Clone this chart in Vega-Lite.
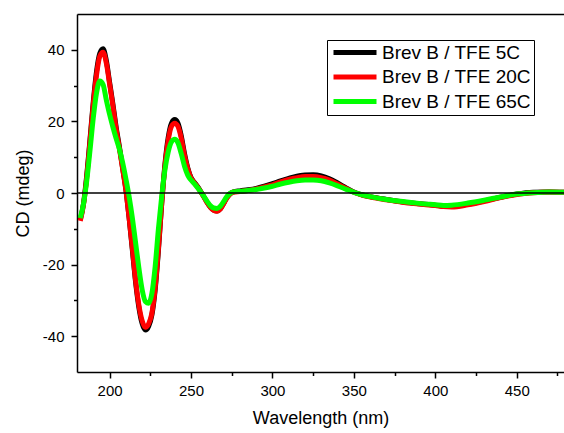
{
  "$schema": "https://vega.github.io/schema/vega-lite/v6.json",
  "autosize": "none",
  "width": 487,
  "height": 358,
  "padding": {"left": 77, "top": 14, "right": 0, "bottom": 61},
  "config": {
    "view": {"stroke": null},
    "font": "Liberation Sans",
    "axis": {"grid": false, "domainColor": "black", "domainWidth": 1.5, "tickColor": "black", "tickWidth": 1.5, "tickSize": 5, "labelColor": "black", "titleColor": "black", "labelFont": "Liberation Sans", "titleFont": "Liberation Sans", "labelFontSize": 15, "titleFontSize": 18, "titleFontWeight": "normal", "labelOverlap": false}
  },
  "datasets": {
    "cd": [
      {"s": "Brev B / TFE 5C", "w": 182, "v": -7.5}, {"s": "Brev B / TFE 5C", "w": 184, "v": -3}, {"s": "Brev B / TFE 5C", "w": 186, "v": 5}, {"s": "Brev B / TFE 5C", "w": 188, "v": 15}, {"s": "Brev B / TFE 5C", "w": 190, "v": 25.5}, {"s": "Brev B / TFE 5C", "w": 192, "v": 34}, {"s": "Brev B / TFE 5C", "w": 194, "v": 39}, {"s": "Brev B / TFE 5C", "w": 196, "v": 40.3}, {"s": "Brev B / TFE 5C", "w": 198, "v": 37}, {"s": "Brev B / TFE 5C", "w": 200, "v": 31}, {"s": "Brev B / TFE 5C", "w": 202, "v": 25}, {"s": "Brev B / TFE 5C", "w": 204, "v": 18.5}, {"s": "Brev B / TFE 5C", "w": 206, "v": 13}, {"s": "Brev B / TFE 5C", "w": 208, "v": 7}, {"s": "Brev B / TFE 5C", "w": 210, "v": 1}, {"s": "Brev B / TFE 5C", "w": 212, "v": -7}, {"s": "Brev B / TFE 5C", "w": 214, "v": -16}, {"s": "Brev B / TFE 5C", "w": 216, "v": -25}, {"s": "Brev B / TFE 5C", "w": 218, "v": -32}, {"s": "Brev B / TFE 5C", "w": 220, "v": -36.5}, {"s": "Brev B / TFE 5C", "w": 222, "v": -38.3}, {"s": "Brev B / TFE 5C", "w": 224, "v": -37.2}, {"s": "Brev B / TFE 5C", "w": 226, "v": -34}, {"s": "Brev B / TFE 5C", "w": 228, "v": -27}, {"s": "Brev B / TFE 5C", "w": 230, "v": -16}, {"s": "Brev B / TFE 5C", "w": 232, "v": -3}, {"s": "Brev B / TFE 5C", "w": 234, "v": 8}, {"s": "Brev B / TFE 5C", "w": 236, "v": 15.5}, {"s": "Brev B / TFE 5C", "w": 238, "v": 19.5}, {"s": "Brev B / TFE 5C", "w": 240, "v": 20.5}, {"s": "Brev B / TFE 5C", "w": 242, "v": 19.5}, {"s": "Brev B / TFE 5C", "w": 244, "v": 16}, {"s": "Brev B / TFE 5C", "w": 246, "v": 11}, {"s": "Brev B / TFE 5C", "w": 248, "v": 7}, {"s": "Brev B / TFE 5C", "w": 250, "v": 4.3}, {"s": "Brev B / TFE 5C", "w": 252, "v": 3}, {"s": "Brev B / TFE 5C", "w": 254, "v": 1.8}, {"s": "Brev B / TFE 5C", "w": 256, "v": 0.4}, {"s": "Brev B / TFE 5C", "w": 258, "v": -1.1}, {"s": "Brev B / TFE 5C", "w": 260, "v": -2.7}, {"s": "Brev B / TFE 5C", "w": 262, "v": -4}, {"s": "Brev B / TFE 5C", "w": 264, "v": -4.8}, {"s": "Brev B / TFE 5C", "w": 266, "v": -5}, {"s": "Brev B / TFE 5C", "w": 268, "v": -4.4}, {"s": "Brev B / TFE 5C", "w": 270, "v": -2.9}, {"s": "Brev B / TFE 5C", "w": 272, "v": -1.3}, {"s": "Brev B / TFE 5C", "w": 274, "v": -0.2}, {"s": "Brev B / TFE 5C", "w": 276, "v": 0.3}, {"s": "Brev B / TFE 5C", "w": 280, "v": 0.6}, {"s": "Brev B / TFE 5C", "w": 285, "v": 0.9}, {"s": "Brev B / TFE 5C", "w": 290, "v": 1.3}, {"s": "Brev B / TFE 5C", "w": 295, "v": 1.9}, {"s": "Brev B / TFE 5C", "w": 300, "v": 2.6}, {"s": "Brev B / TFE 5C", "w": 305, "v": 3.4}, {"s": "Brev B / TFE 5C", "w": 310, "v": 4.1}, {"s": "Brev B / TFE 5C", "w": 315, "v": 4.7}, {"s": "Brev B / TFE 5C", "w": 320, "v": 5}, {"s": "Brev B / TFE 5C", "w": 325, "v": 5.1}, {"s": "Brev B / TFE 5C", "w": 330, "v": 4.8}, {"s": "Brev B / TFE 5C", "w": 335, "v": 4}, {"s": "Brev B / TFE 5C", "w": 340, "v": 2.8}, {"s": "Brev B / TFE 5C", "w": 345, "v": 1.5}, {"s": "Brev B / TFE 5C", "w": 350, "v": 0.3}, {"s": "Brev B / TFE 5C", "w": 355, "v": -0.5}, {"s": "Brev B / TFE 5C", "w": 360, "v": -1}, {"s": "Brev B / TFE 5C", "w": 370, "v": -1.8}, {"s": "Brev B / TFE 5C", "w": 380, "v": -2.5}, {"s": "Brev B / TFE 5C", "w": 390, "v": -3}, {"s": "Brev B / TFE 5C", "w": 400, "v": -3.4}, {"s": "Brev B / TFE 5C", "w": 405, "v": -3.7}, {"s": "Brev B / TFE 5C", "w": 410, "v": -3.7}, {"s": "Brev B / TFE 5C", "w": 420, "v": -3.1}, {"s": "Brev B / TFE 5C", "w": 430, "v": -2.2}, {"s": "Brev B / TFE 5C", "w": 440, "v": -1.2}, {"s": "Brev B / TFE 5C", "w": 450, "v": -0.3}, {"s": "Brev B / TFE 5C", "w": 460, "v": 0.2}, {"s": "Brev B / TFE 5C", "w": 470, "v": 0.3}, {"s": "Brev B / TFE 5C", "w": 479, "v": 0.2},

      {"s": "Brev B / TFE 20C", "w": 182, "v": -7.8}, {"s": "Brev B / TFE 20C", "w": 184, "v": -3.2}, {"s": "Brev B / TFE 20C", "w": 186, "v": 4.5}, {"s": "Brev B / TFE 20C", "w": 188, "v": 14.5}, {"s": "Brev B / TFE 20C", "w": 190, "v": 24.8}, {"s": "Brev B / TFE 20C", "w": 192, "v": 33}, {"s": "Brev B / TFE 20C", "w": 194, "v": 38.2}, {"s": "Brev B / TFE 20C", "w": 196, "v": 39.3}, {"s": "Brev B / TFE 20C", "w": 198, "v": 36.3}, {"s": "Brev B / TFE 20C", "w": 200, "v": 30.5}, {"s": "Brev B / TFE 20C", "w": 202, "v": 24.5}, {"s": "Brev B / TFE 20C", "w": 204, "v": 18}, {"s": "Brev B / TFE 20C", "w": 206, "v": 12.5}, {"s": "Brev B / TFE 20C", "w": 208, "v": 6.8}, {"s": "Brev B / TFE 20C", "w": 210, "v": 0.8}, {"s": "Brev B / TFE 20C", "w": 212, "v": -7}, {"s": "Brev B / TFE 20C", "w": 214, "v": -15.5}, {"s": "Brev B / TFE 20C", "w": 216, "v": -24.5}, {"s": "Brev B / TFE 20C", "w": 218, "v": -31.3}, {"s": "Brev B / TFE 20C", "w": 220, "v": -35.7}, {"s": "Brev B / TFE 20C", "w": 222, "v": -37.5}, {"s": "Brev B / TFE 20C", "w": 224, "v": -36.5}, {"s": "Brev B / TFE 20C", "w": 226, "v": -33.5}, {"s": "Brev B / TFE 20C", "w": 228, "v": -26.5}, {"s": "Brev B / TFE 20C", "w": 230, "v": -15.5}, {"s": "Brev B / TFE 20C", "w": 232, "v": -3}, {"s": "Brev B / TFE 20C", "w": 234, "v": 7.5}, {"s": "Brev B / TFE 20C", "w": 236, "v": 14.7}, {"s": "Brev B / TFE 20C", "w": 238, "v": 18.6}, {"s": "Brev B / TFE 20C", "w": 240, "v": 19.5}, {"s": "Brev B / TFE 20C", "w": 242, "v": 18.6}, {"s": "Brev B / TFE 20C", "w": 244, "v": 15.3}, {"s": "Brev B / TFE 20C", "w": 246, "v": 10.5}, {"s": "Brev B / TFE 20C", "w": 248, "v": 6.8}, {"s": "Brev B / TFE 20C", "w": 250, "v": 4.2}, {"s": "Brev B / TFE 20C", "w": 252, "v": 2.9}, {"s": "Brev B / TFE 20C", "w": 254, "v": 1.7}, {"s": "Brev B / TFE 20C", "w": 256, "v": 0.3}, {"s": "Brev B / TFE 20C", "w": 258, "v": -1.2}, {"s": "Brev B / TFE 20C", "w": 260, "v": -2.8}, {"s": "Brev B / TFE 20C", "w": 262, "v": -4.1}, {"s": "Brev B / TFE 20C", "w": 264, "v": -4.9}, {"s": "Brev B / TFE 20C", "w": 266, "v": -5.1}, {"s": "Brev B / TFE 20C", "w": 268, "v": -4.5}, {"s": "Brev B / TFE 20C", "w": 270, "v": -3}, {"s": "Brev B / TFE 20C", "w": 272, "v": -1.4}, {"s": "Brev B / TFE 20C", "w": 274, "v": -0.3}, {"s": "Brev B / TFE 20C", "w": 276, "v": 0.2}, {"s": "Brev B / TFE 20C", "w": 280, "v": 0.4}, {"s": "Brev B / TFE 20C", "w": 285, "v": 0.7}, {"s": "Brev B / TFE 20C", "w": 290, "v": 1.1}, {"s": "Brev B / TFE 20C", "w": 295, "v": 1.7}, {"s": "Brev B / TFE 20C", "w": 300, "v": 2.3}, {"s": "Brev B / TFE 20C", "w": 305, "v": 3.1}, {"s": "Brev B / TFE 20C", "w": 310, "v": 3.8}, {"s": "Brev B / TFE 20C", "w": 315, "v": 4.3}, {"s": "Brev B / TFE 20C", "w": 320, "v": 4.6}, {"s": "Brev B / TFE 20C", "w": 325, "v": 4.6}, {"s": "Brev B / TFE 20C", "w": 330, "v": 4.3}, {"s": "Brev B / TFE 20C", "w": 335, "v": 3.6}, {"s": "Brev B / TFE 20C", "w": 340, "v": 2.5}, {"s": "Brev B / TFE 20C", "w": 345, "v": 1.3}, {"s": "Brev B / TFE 20C", "w": 350, "v": 0.2}, {"s": "Brev B / TFE 20C", "w": 355, "v": -0.6}, {"s": "Brev B / TFE 20C", "w": 360, "v": -1.1}, {"s": "Brev B / TFE 20C", "w": 370, "v": -1.9}, {"s": "Brev B / TFE 20C", "w": 380, "v": -2.6}, {"s": "Brev B / TFE 20C", "w": 390, "v": -3.1}, {"s": "Brev B / TFE 20C", "w": 400, "v": -3.5}, {"s": "Brev B / TFE 20C", "w": 405, "v": -3.8}, {"s": "Brev B / TFE 20C", "w": 410, "v": -3.9}, {"s": "Brev B / TFE 20C", "w": 420, "v": -3.3}, {"s": "Brev B / TFE 20C", "w": 430, "v": -2.4}, {"s": "Brev B / TFE 20C", "w": 440, "v": -1.3}, {"s": "Brev B / TFE 20C", "w": 450, "v": -0.4}, {"s": "Brev B / TFE 20C", "w": 460, "v": 0.1}, {"s": "Brev B / TFE 20C", "w": 470, "v": 0.3}, {"s": "Brev B / TFE 20C", "w": 479, "v": 0.2},

      {"s": "Brev B / TFE 65C", "w": 182, "v": -7}, {"s": "Brev B / TFE 65C", "w": 184, "v": -3}, {"s": "Brev B / TFE 65C", "w": 186, "v": 3.5}, {"s": "Brev B / TFE 65C", "w": 188, "v": 12}, {"s": "Brev B / TFE 65C", "w": 190, "v": 21}, {"s": "Brev B / TFE 65C", "w": 192, "v": 28}, {"s": "Brev B / TFE 65C", "w": 194, "v": 31.3}, {"s": "Brev B / TFE 65C", "w": 196, "v": 30.3}, {"s": "Brev B / TFE 65C", "w": 198, "v": 26}, {"s": "Brev B / TFE 65C", "w": 200, "v": 22}, {"s": "Brev B / TFE 65C", "w": 202, "v": 18.5}, {"s": "Brev B / TFE 65C", "w": 204, "v": 15.3}, {"s": "Brev B / TFE 65C", "w": 206, "v": 12.3}, {"s": "Brev B / TFE 65C", "w": 208, "v": 8.5}, {"s": "Brev B / TFE 65C", "w": 210, "v": 4}, {"s": "Brev B / TFE 65C", "w": 212, "v": -1}, {"s": "Brev B / TFE 65C", "w": 214, "v": -7}, {"s": "Brev B / TFE 65C", "w": 216, "v": -14}, {"s": "Brev B / TFE 65C", "w": 218, "v": -21}, {"s": "Brev B / TFE 65C", "w": 220, "v": -27}, {"s": "Brev B / TFE 65C", "w": 222, "v": -30.3}, {"s": "Brev B / TFE 65C", "w": 224, "v": -30.8}, {"s": "Brev B / TFE 65C", "w": 226, "v": -28}, {"s": "Brev B / TFE 65C", "w": 228, "v": -20.5}, {"s": "Brev B / TFE 65C", "w": 230, "v": -10}, {"s": "Brev B / TFE 65C", "w": 232, "v": -1}, {"s": "Brev B / TFE 65C", "w": 234, "v": 6.5}, {"s": "Brev B / TFE 65C", "w": 236, "v": 11.5}, {"s": "Brev B / TFE 65C", "w": 238, "v": 14.3}, {"s": "Brev B / TFE 65C", "w": 240, "v": 15}, {"s": "Brev B / TFE 65C", "w": 242, "v": 14}, {"s": "Brev B / TFE 65C", "w": 244, "v": 11}, {"s": "Brev B / TFE 65C", "w": 246, "v": 7.5}, {"s": "Brev B / TFE 65C", "w": 248, "v": 5}, {"s": "Brev B / TFE 65C", "w": 250, "v": 3.6}, {"s": "Brev B / TFE 65C", "w": 252, "v": 2.6}, {"s": "Brev B / TFE 65C", "w": 254, "v": 1.5}, {"s": "Brev B / TFE 65C", "w": 256, "v": 0.3}, {"s": "Brev B / TFE 65C", "w": 258, "v": -1}, {"s": "Brev B / TFE 65C", "w": 260, "v": -2.4}, {"s": "Brev B / TFE 65C", "w": 262, "v": -3.6}, {"s": "Brev B / TFE 65C", "w": 264, "v": -4.2}, {"s": "Brev B / TFE 65C", "w": 266, "v": -4.3}, {"s": "Brev B / TFE 65C", "w": 268, "v": -3.7}, {"s": "Brev B / TFE 65C", "w": 270, "v": -2.4}, {"s": "Brev B / TFE 65C", "w": 272, "v": -1}, {"s": "Brev B / TFE 65C", "w": 274, "v": -0.1}, {"s": "Brev B / TFE 65C", "w": 276, "v": 0.3}, {"s": "Brev B / TFE 65C", "w": 280, "v": 0.5}, {"s": "Brev B / TFE 65C", "w": 285, "v": 0.7}, {"s": "Brev B / TFE 65C", "w": 290, "v": 1}, {"s": "Brev B / TFE 65C", "w": 295, "v": 1.4}, {"s": "Brev B / TFE 65C", "w": 300, "v": 1.9}, {"s": "Brev B / TFE 65C", "w": 305, "v": 2.5}, {"s": "Brev B / TFE 65C", "w": 310, "v": 3}, {"s": "Brev B / TFE 65C", "w": 315, "v": 3.4}, {"s": "Brev B / TFE 65C", "w": 320, "v": 3.6}, {"s": "Brev B / TFE 65C", "w": 325, "v": 3.6}, {"s": "Brev B / TFE 65C", "w": 330, "v": 3.4}, {"s": "Brev B / TFE 65C", "w": 335, "v": 2.8}, {"s": "Brev B / TFE 65C", "w": 340, "v": 2}, {"s": "Brev B / TFE 65C", "w": 345, "v": 1.1}, {"s": "Brev B / TFE 65C", "w": 350, "v": 0.2}, {"s": "Brev B / TFE 65C", "w": 355, "v": -0.5}, {"s": "Brev B / TFE 65C", "w": 360, "v": -1}, {"s": "Brev B / TFE 65C", "w": 370, "v": -1.8}, {"s": "Brev B / TFE 65C", "w": 380, "v": -2.4}, {"s": "Brev B / TFE 65C", "w": 390, "v": -2.9}, {"s": "Brev B / TFE 65C", "w": 400, "v": -3.3}, {"s": "Brev B / TFE 65C", "w": 405, "v": -3.5}, {"s": "Brev B / TFE 65C", "w": 410, "v": -3.4}, {"s": "Brev B / TFE 65C", "w": 420, "v": -2.8}, {"s": "Brev B / TFE 65C", "w": 430, "v": -2}, {"s": "Brev B / TFE 65C", "w": 440, "v": -1.1}, {"s": "Brev B / TFE 65C", "w": 450, "v": -0.3}, {"s": "Brev B / TFE 65C", "w": 460, "v": 0.1}, {"s": "Brev B / TFE 65C", "w": 470, "v": 0.3}, {"s": "Brev B / TFE 65C", "w": 479, "v": 0.2}
    ],
    "top": [{"w": 300, "zero": 0}]
  },
  "layer": [
    {
      "data": {"name": "cd"},
      "mark": {"type": "line", "strokeWidth": 5, "interpolate": "monotone"},
      "encoding": {
        "x": {"field": "w", "type": "quantitative", "scale": {"domain": [180, 479], "nice": false, "zero": false},
          "axis": {"title": "Wavelength (nm)", "values": [200, 225, 250, 275, 300, 325, 350, 375, 400, 425, 450, 475], "labelExpr": "datum.value % 50 === 0 ? '' + datum.value : ''", "tickSize": {"condition": {"test": "datum.value % 50 === 0", "value": 6}, "value": 3.5}, "labelPadding": 5, "titlePadding": 11}},
        "y": {"field": "v", "type": "quantitative", "scale": {"domain": [-50, 50], "nice": false},
          "axis": {"title": "CD (mdeg)", "values": [-40, -30, -20, -10, 0, 10, 20, 30, 40], "labelExpr": "datum.value % 20 === 0 ? '' + datum.value : ''", "tickSize": {"condition": {"test": "datum.value % 20 === 0", "value": 6}, "value": 3.5}, "labelPadding": 7, "titlePadding": 10}},
        "color": {"field": "s", "type": "nominal",
          "scale": {"domain": ["Brev B / TFE 5C", "Brev B / TFE 20C", "Brev B / TFE 65C"], "range": ["#000000", "#ff0000", "#00ff00"]},
          "legend": {"title": null, "orient": "none", "legendX": 250, "legendY": 26, "strokeColor": "black", "fillColor": "white", "padding": 3, "symbolType": "M-1.2,0H7.4", "symbolSize": 100, "symbolStrokeWidth": 5, "labelFontSize": 19, "labelFont": "Liberation Sans", "labelColor": "black", "labelOffset": 33, "rowPadding": 3.5}}
      }
    },
    {
      "data": {"name": "top"},
      "mark": {"type": "rule", "color": "black", "strokeWidth": 1.5},
      "encoding": {"y": {"field": "zero", "type": "quantitative"}}
    },
    {
      "data": {"name": "top"},
      "mark": {"type": "point", "opacity": 0},
      "encoding": {
        "x": {"field": "w", "type": "quantitative", "axis": {"orient": "top", "title": null, "labels": false, "ticks": false}}
      }
    }
  ],
  "resolve": {"axis": {"x": "independent"}}
}
